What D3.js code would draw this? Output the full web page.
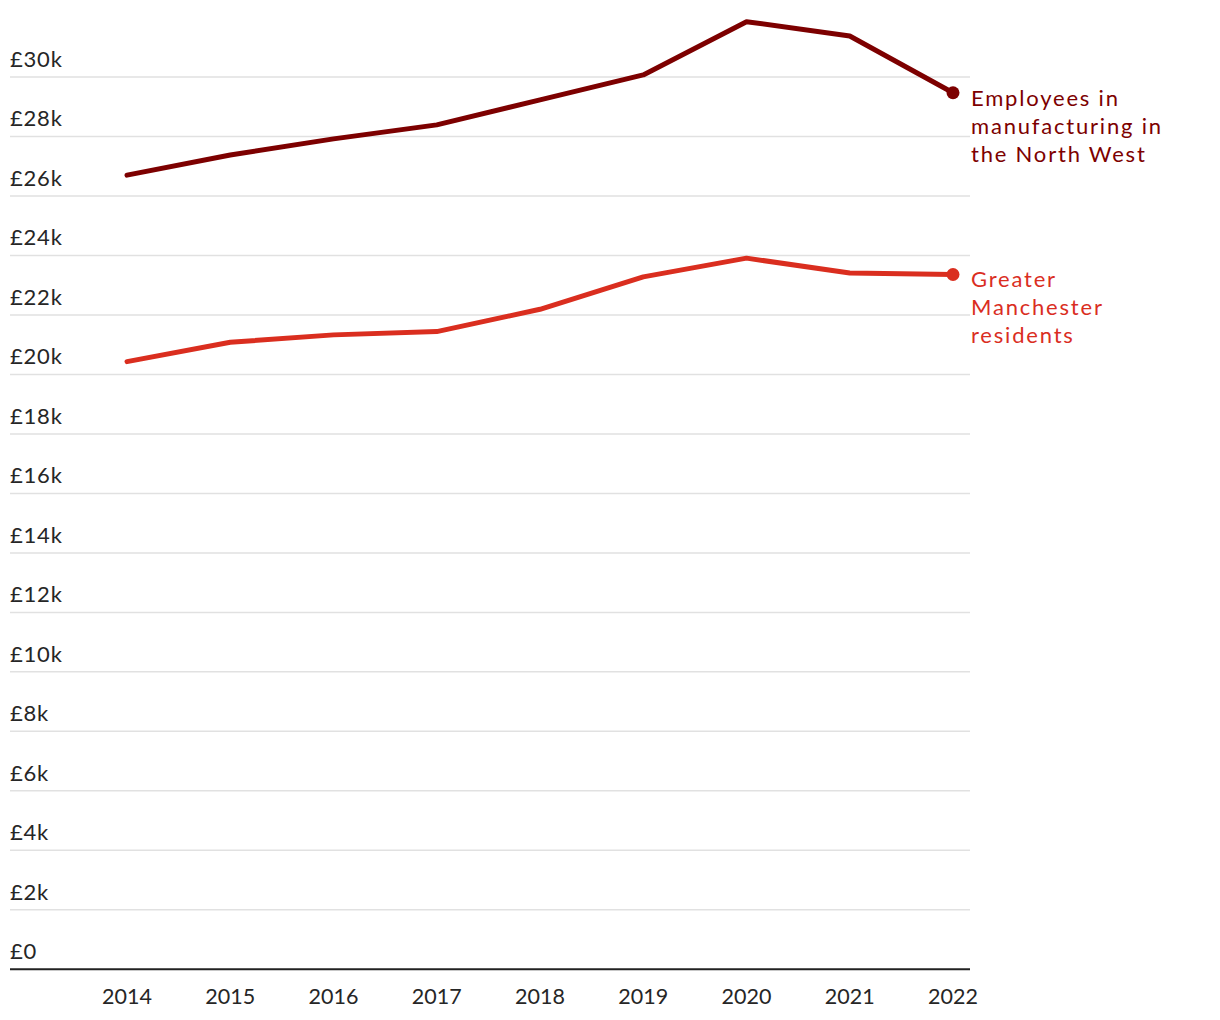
<!DOCTYPE html>
<html><head><meta charset="utf-8">
<script src="https://cdn.jsdelivr.net/npm/d3@7"></script>
<style>
body{margin:0;background:#fff;}
text{font-family:Lato,"Open Sans",sans-serif;}
</style></head>
<body><svg id="c" width="1220" height="1020"></svg>
<script>
const years = [2014,2015,2016,2017,2018,2019,2020,2021,2022];
const manufacturingNW = [26.70,27.38,27.92,28.39,29.23,30.07,31.86,31.38,29.47];
const greaterManchester = [20.43,21.08,21.33,21.44,22.19,23.28,23.91,23.41,23.36];
const yTicks = [0,2,4,6,8,10,12,14,16,18,20,22,24,26,28,30];
const seriesNames = [["Employees in","manufacturing in","the North West"],["Greater","Manchester","residents"]];
const seriesColors = ["#7d0000","#da2e1f"];

const svg = d3.select("#c");
const x = d3.scalePoint().domain(years).range([127,953]);
const y = d3.scaleLinear().domain([0,30]).range([969.3,77]);

svg.append("g").selectAll("line").data(yTicks.filter(d=>d>0)).join("line")
  .attr("x1",10).attr("x2",970).attr("y1",d=>y(d)).attr("y2",d=>y(d))
  .attr("stroke","#e1e1e1").attr("stroke-width",1.5);
svg.append("g").selectAll("text").data(yTicks).join("text")
  .attr("x",10).attr("y",d=>y(d)-10).attr("font-size",22).attr("letter-spacing",0.8).attr("fill","#262626")
  .text(d=>d===0?"£0":"£"+d+"k");
svg.append("line").attr("x1",10).attr("x2",970).attr("y1",y(0)).attr("y2",y(0))
  .attr("stroke","#222").attr("stroke-width",2);
svg.append("g").selectAll("text").data(years).join("text")
  .attr("x",d=>x(d)).attr("y",1004).attr("text-anchor","middle")
  .attr("font-size",21.5).attr("fill","#262626").text(d=>d);

const line = d3.line().x((d,i)=>x(years[i])).y(d=>y(d));
[manufacturingNW, greaterManchester].forEach((s,k)=>{
  svg.append("path").datum(s).attr("d",line).attr("fill","none")
    .attr("stroke",seriesColors[k]).attr("stroke-width",5)
    .attr("stroke-linejoin","round").attr("stroke-linecap","round");
  const last = s[s.length-1];
  svg.append("circle").attr("cx",x(years[years.length-1])).attr("cy",y(last)).attr("r",6.5)
    .attr("fill",seriesColors[k]);
  svg.append("g").selectAll("text").data(seriesNames[k]).join("text")
    .attr("x",971).attr("y",(d,i)=>y(last)+13+i*28).attr("font-size",22).attr("letter-spacing",1.8)
    .attr("fill",seriesColors[k]).text(d=>d);
});
</script></body></html>
